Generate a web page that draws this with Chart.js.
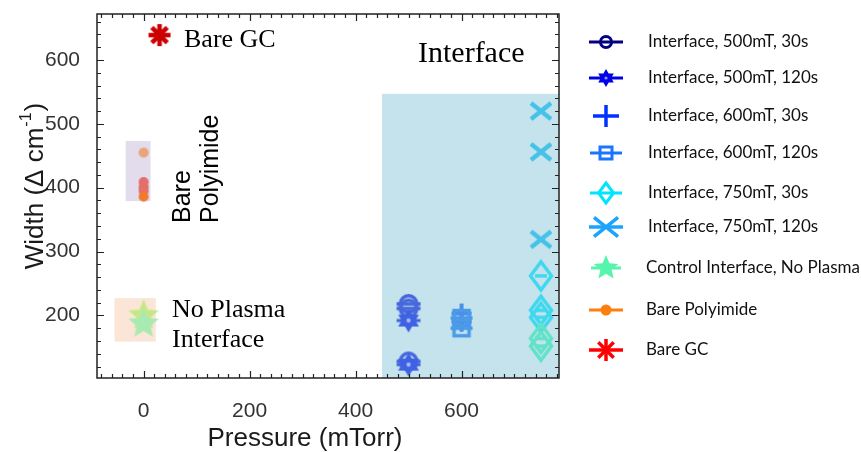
<!DOCTYPE html>
<html lang="en">
<head>
<meta charset="UTF-8">
<title>Width vs Pressure</title>
<script src="https://cdn.jsdelivr.net/npm/chart.js@4.4.1/dist/chart.umd.min.js"></script>
<style>
  body { margin: 0; background: #fff; }
  #wrap { width: 861px; height: 452px; }
</style>
</head>
<body>
<div id="wrap"><canvas id="chart" width="861" height="452"></canvas></div>
<script>
// ---- data ----
const xTicks = [0, 200, 400, 600];
const yTicks = [200, 300, 400, 500, 600];

const bareGC        = [{ x: 30, y: 639 }];
const barePolyimide = [{ x: 0, y: 455 }, { x: 0, y: 409 }, { x: 0, y: 401 }, { x: 0, y: 395 }, { x: 0, y: 386 }];
const polyColors    = ['#e9a478', '#e46e6e', '#e46e6e', '#e67068', '#ef7a30'];
const controlNoPlasma = [{ x: 0, y: 200 }, { x: 0, y: 187 }];
const controlColors = ['#c6e884', '#a8eab2'];
const i500_30  = [{ x: 500, y: 218 }, { x: 500, y: 211 }, { x: 500, y: 128 }];
const i500_120 = [{ x: 500, y: 192 }, { x: 500, y: 123 }];
const i600_30  = [{ x: 600, y: 203 }, { x: 600, y: 190 }];
const i600_120 = [{ x: 600, y: 196 }, { x: 600, y: 180 }];
const i750_30  = [{ x: 750, y: 262 }, { x: 750, y: 208 }, { x: 750, y: 197 }];
const i750_30b = [{ x: 750, y: 164 }, { x: 750, y: 152 }];
const i750_120 = [{ x: 750, y: 520 }, { x: 750, y: 456 }, { x: 750, y: 319 }];

const legendLabels = [
  'Interface, 500mT, 30s', 'Interface, 500mT, 120s', 'Interface, 600mT, 30s',
  'Interface, 600mT, 120s', 'Interface, 750mT, 30s', 'Interface, 750mT, 120s',
  'Control Interface, No Plasma', 'Bare Polyimide', 'Bare GC'
];
const legendColors = ['#000080', '#0000e6', '#0033ff', '#1a75ff', '#00e5ff', '#1aa3ff', '#55f5ac', '#ff7f0e', '#ff0000'];

// shaded regions [x0, x1, y0, y1]
const shadeInterface = [450, 790, 90, 547];
const shadePolyimide = [-34, 13, 379, 473];
const shadeNoPlasma  = [-55, 23, 159, 227];

// ---- marker drawing ----
function starPath(g, n, rOut, rIn) {
  g.beginPath();
  for (let i = 0; i < 2 * n; i++) {
    const r = i % 2 ? rIn : rOut;
    const a = i * Math.PI / n;
    g.lineTo(r * Math.sin(a), -r * Math.cos(a));
  }
  g.closePath();
}

function marker(kind, color, r, L, lw) {
  const half = Math.ceil(Math.max(r, L) + lw + 1);
  const c = document.createElement('canvas');
  c.width = c.height = half * 2;
  const g = c.getContext('2d');
  g.translate(half, half);
  g.strokeStyle = color;
  g.fillStyle = color;
  g.lineWidth = lw;
  const line = (x1, y1, x2, y2) => { g.beginPath(); g.moveTo(x1, y1); g.lineTo(x2, y2); g.stroke(); };
  const bar = () => { if (L > 0) line(-L, 0, L, 0); };
  switch (kind) {
    case 'theta':
      bar();
      g.beginPath(); g.arc(0, 0, r - lw / 2, 0, Math.PI * 2); g.stroke();
      break;
    case 'hexagram':
      starPath(g, 6, r, r * 0.58); g.fill();
      bar();
      g.fillStyle = 'rgba(255,255,255,0.55)';
      g.beginPath(); g.arc(0, 0, r * 0.18, 0, Math.PI * 2); g.fill();
      break;
    case 'plus':
      line(0, -r, 0, r); bar();
      break;
    case 'square': {
      const s = r * 0.75;
      g.strokeRect(-s, -s, 2 * s, 2 * s); bar();
      break;
    }
    case 'diamond':
      g.beginPath(); g.moveTo(0, -r); g.lineTo(r * 0.75, 0); g.lineTo(0, r); g.lineTo(-r * 0.75, 0); g.closePath(); g.stroke();
      bar();
      break;
    case 'cross':
      line(-r, -r * 0.8, r, r * 0.8); line(-r, r * 0.8, r, -r * 0.8); bar();
      break;
    case 'star5':
      starPath(g, 5, r, r * 0.45); g.fill(); bar();
      break;
    case 'dot':
      bar();
      g.beginPath(); g.arc(0, 0, r, 0, Math.PI * 2); g.fill();
      break;
    case 'asterisk':
      line(0, -r, 0, r);
      line(-r * 0.7, -r * 0.7, r * 0.7, r * 0.7);
      line(-r * 0.7, r * 0.7, r * 0.7, -r * 0.7);
      bar();
      break;
  }
  return c;
}

// plot markers (colours as they appear through the shading)
const mk = {
  i500_30:  marker('theta', '#4768dc', 10, 12, 3.5),
  i500_120: marker('hexagram', '#3f62e4', 12, 12, 3),
  i600_30:  marker('plus', '#4c8ee8', 10, 10, 4),
  i600_120: marker('square', '#4a9ae8', 10, 11, 3.5),
  i750_30:  marker('diamond', '#40d8ee', 14, 6, 3.5),
  i750_30b: marker('diamond', '#62e2c6', 14, 6, 3.5),
  i750_120: marker('cross', '#45c2e8', 10, 0, 4.5),
  control:  [marker('star5', controlColors[0], 16, 0, 2), marker('star5', controlColors[1], 16, 0, 2)],
  poly:     polyColors.map(c => marker('dot', c, 5, 0, 1)),
  gc:       marker('asterisk', '#cc0000', 11, 11, 4.5)
};

// legend markers
const legendMk = [
  marker('theta', legendColors[0], 7, 17, 3),
  marker('hexagram', legendColors[1], 9, 17, 3),
  marker('plus', legendColors[2], 11, 13, 3.5),
  marker('square', legendColors[3], 8, 16, 3),
  marker('diamond', legendColors[4], 10, 16, 3),
  marker('cross', legendColors[5], 12, 17, 3.5),
  marker('star5', legendColors[6], 13, 15, 3),
  marker('dot', legendColors[7], 5.5, 17, 3),
  marker('asterisk', legendColors[8], 11, 17, 3.5)
];

function ds(label, data, style) {
  return { label, data, pointStyle: style, pointRadius: 8, showLine: false };
}

// ---- plugins ----
const decor = {
  id: 'decor',
  beforeDatasetsDraw(chart) {
    const { ctx, chartArea: a, scales: { x, y } } = chart;
    ctx.save();
    ctx.beginPath(); ctx.rect(a.left, a.top, a.right - a.left, a.bottom - a.top); ctx.clip();
    const box = (b, col) => {
      const x0 = x.getPixelForValue(b[0]), x1 = x.getPixelForValue(b[1]);
      const y0 = y.getPixelForValue(b[2]), y1 = y.getPixelForValue(b[3]);
      ctx.fillStyle = col;
      ctx.fillRect(x0, y1, x1 - x0, y0 - y1);
    };
    box(shadeInterface, '#c5e3ec');
    box(shadePolyimide, '#e2dcec');
    box(shadeNoPlasma, '#fbe5d6');
    ctx.restore();
  },
  afterDatasetsDraw(chart) {
    const { ctx, chartArea: a, scales: { x, y } } = chart;
    ctx.save();
    // frame
    ctx.strokeStyle = '#222';
    ctx.lineWidth = 1.5;
    ctx.strokeRect(a.left, a.top, a.right - a.left, a.bottom - a.top);
    // inward ticks, all four sides
    ctx.lineWidth = 1.2;
    ctx.beginPath();
    for (let v = Math.ceil(x.min / 20) * 20; v <= x.max; v += 20) {
      const px = Math.round(x.getPixelForValue(v)) + 0.5;
      const len = v % 200 === 0 ? 7 : 4;
      ctx.moveTo(px, a.bottom); ctx.lineTo(px, a.bottom - len);
      ctx.moveTo(px, a.top); ctx.lineTo(px, a.top + len);
    }
    for (let v = Math.ceil(y.min / 20) * 20; v <= y.max; v += 20) {
      const py = Math.round(y.getPixelForValue(v)) + 0.5;
      const len = v % 100 === 0 ? 7 : 4;
      ctx.moveTo(a.left, py); ctx.lineTo(a.left + len, py);
      ctx.moveTo(a.right, py); ctx.lineTo(a.right - len, py);
    }
    ctx.stroke();

    // annotations in the plot
    ctx.fillStyle = '#000';
    ctx.textAlign = 'left';
    ctx.textBaseline = 'alphabetic';
    ctx.font = '26px "Liberation Serif"';
    ctx.fillText('Bare GC', 184, 47);
    ctx.fillText('No Plasma', 172, 317);
    ctx.fillText('Interface', 172, 347);
    ctx.font = '30px "Liberation Serif"';
    ctx.fillText('Interface', 418, 62);

    ctx.save();
    ctx.font = '25px "Liberation Sans"';
    ctx.translate(190, 223);
    ctx.rotate(-Math.PI / 2);
    ctx.fillText('Bare', 0, 0);
    ctx.fillText('Polyimide', 0, 28);
    ctx.restore();

    // axis titles
    ctx.fillStyle = '#1a1a1a';
    ctx.font = '26px "Liberation Sans"';
    ctx.textAlign = 'center';
    ctx.fillText('Pressure (mTorr)', 305, 446);

    ctx.save();
    ctx.translate(43, 0);
    ctx.rotate(-Math.PI / 2);
    const main = 'Width (\u0394 cm';
    ctx.font = '26px "Liberation Sans"';
    const w1 = ctx.measureText(main).width;
    ctx.font = '16px "Liberation Sans"';
    const w2 = ctx.measureText('-1').width;
    ctx.font = '26px "Liberation Sans"';
    const w3 = ctx.measureText(')').width;
    const total = w1 + w2 + w3 + 2;
    let tx = -186 - total / 2;
    ctx.textAlign = 'left';
    ctx.fillText(main, tx, 0);
    ctx.font = '16px "Liberation Sans"';
    ctx.fillText('-1', tx + w1 + 1, -12);
    ctx.font = '26px "Liberation Sans"';
    ctx.fillText(')', tx + w1 + w2 + 2, 0);
    ctx.restore();
    ctx.restore();
  },
  afterDraw(chart) {
    const ctx = chart.ctx;
    ctx.save();
    ctx.font = '17px Lato';
    ctx.fillStyle = '#111';
    ctx.textBaseline = 'middle';
    ctx.textAlign = 'left';
    const rows = [42, 78, 116, 153, 193, 227, 268, 310, 350];
    legendLabels.forEach((t, i) => {
      const m = legendMk[i];
      ctx.drawImage(m, 606 - m.width / 2, rows[i] - m.height / 2);
      ctx.fillText(t, i >= 6 ? 646 : 648, rows[i]);
    });
    ctx.restore();
  }
};

const tickFont = { family: 'Liberation Sans', size: 21 };

new Chart(document.getElementById('chart'), {
  type: 'scatter',
  data: {
    datasets: [
      ds('Bare Polyimide', barePolyimide, mk.poly),
      ds('Control Interface, No Plasma', controlNoPlasma, mk.control),
      ds('Interface, 500mT, 120s', i500_120, mk.i500_120),
      ds('Interface, 500mT, 30s', i500_30, mk.i500_30),
      ds('Interface, 600mT, 120s', i600_120, mk.i600_120),
      ds('Interface, 600mT, 30s', i600_30, mk.i600_30),
      ds('Interface, 750mT, 30s (repeat)', i750_30b, mk.i750_30b),
      ds('Interface, 750mT, 30s', i750_30, mk.i750_30),
      ds('Interface, 750mT, 120s', i750_120, mk.i750_120),
      ds('Bare GC', bareGC, mk.gc)
    ]
  },
  options: {
    responsive: false,
    animation: false,
    layout: { padding: { left: 0, top: 14, right: 302, bottom: 0 } },
    plugins: { legend: { display: false }, tooltip: { enabled: false } },
    scales: {
      x: {
        type: 'linear', min: -88, max: 784,
        grid: { display: false }, border: { display: false },
        ticks: { font: tickFont, color: '#333', padding: 13, maxRotation: 0 },
        afterBuildTicks: s => { s.ticks = xTicks.map(v => ({ value: v })); },
        afterFit: s => { s.height = 74; s.paddingLeft = 0; s.paddingRight = 0; }
      },
      y: {
        type: 'linear', min: 102, max: 672,
        grid: { display: false }, border: { display: false },
        ticks: { font: tickFont, color: '#333', padding: 9 },
        afterBuildTicks: s => { s.ticks = yTicks.map(v => ({ value: v })); },
        afterFit: s => { s.width = 97; s.paddingTop = 0; s.paddingBottom = 0; }
      }
    }
  },
  plugins: [decor]
});
</script>
</body>
</html>
